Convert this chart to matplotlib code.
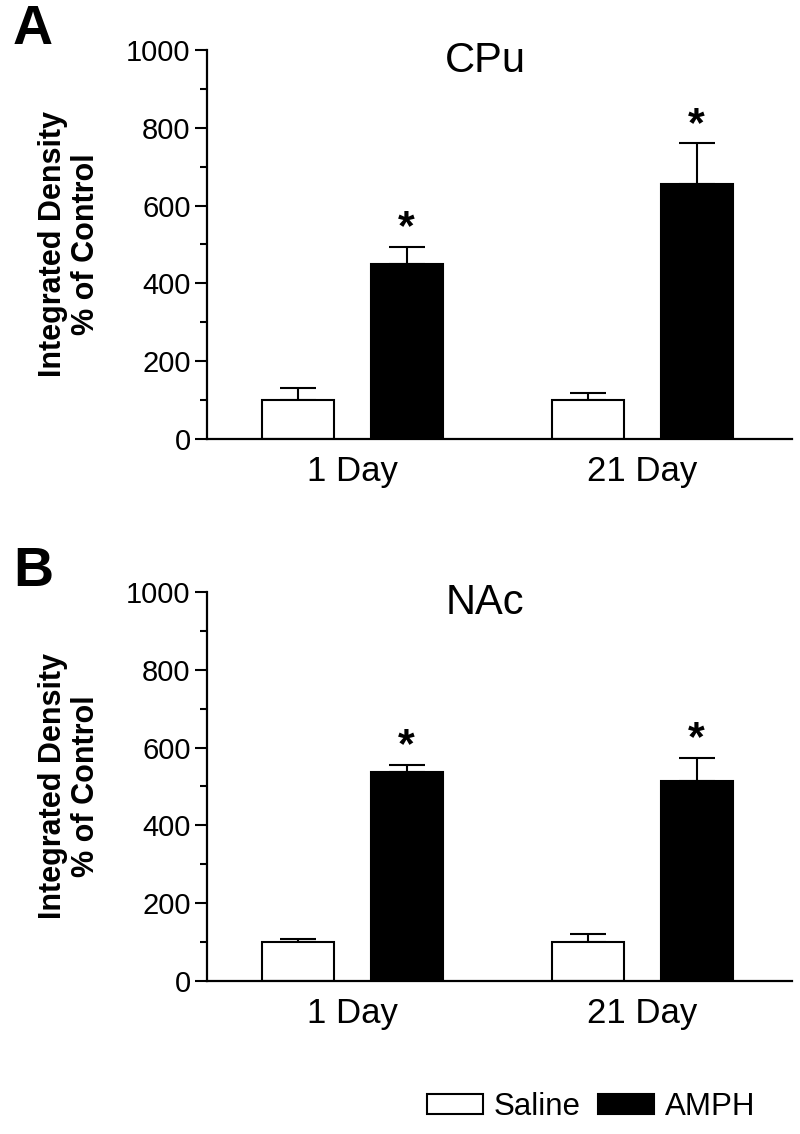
import matplotlib
matplotlib.use("Agg")
import matplotlib.pyplot as plt
from matplotlib.patches import Patch
import numpy as np

plt.rcParams['font.family'] = ['Liberation Sans', 'DejaVu Sans']

groups = ["1 Day", "21 Day"]
series = ["Saline", "AMPH"]
panel_letters = ["A", "B"]
regions = ["CPu", "NAc"]

cpu_saline = [100, 100]
cpu_saline_err = [30, 17]
cpu_amph = [450, 655]
cpu_amph_err = [43, 105]

nac_saline = [100, 100]
nac_saline_err = [7, 21]
nac_amph = [537, 515]
nac_amph_err = [18, 59]

yticks = [0, 200, 400, 600, 800, 1000]

fig = plt.figure(figsize=(8, 11.34), dpi=100)

axes_rects = [[0.259, 0.6131, 0.731, 0.3428], [0.259, 0.1352, 0.731, 0.3425]]
letter_y = [0.9735, 0.4956]
data = [(cpu_saline, cpu_saline_err, cpu_amph, cpu_amph_err),
        (nac_saline, nac_saline_err, nac_amph, nac_amph_err)]

x = np.arange(len(groups))
w = 0.248
off = 0.188
lw = 1.5

for rect, ly, (s, se, a, ae), letter, region in zip(axes_rects, letter_y, data, panel_letters, regions):
    ax = fig.add_axes(rect)
    ax.bar(x - off, s, w, color='white', edgecolor='black', linewidth=lw, zorder=2)
    ax.bar(x + off, a, w, color='black', edgecolor='black', linewidth=lw, zorder=2)
    ax.errorbar(x - off, s, yerr=[np.zeros(len(s)), se], fmt='none', ecolor='black',
                elinewidth=lw, capsize=13, capthick=lw, zorder=1)
    ax.errorbar(x + off, a, yerr=[np.zeros(len(a)), ae], fmt='none', ecolor='black',
                elinewidth=lw, capsize=13, capthick=lw, zorder=1)
    for xi, ai, aei in zip(x + off, a, ae):
        ax.annotate('*', (xi, ai + aei), xytext=(0, -1), textcoords='offset points',
                    ha='center', va='bottom', fontsize=31, fontweight='bold')
    ax.set_xlim(-0.5, 1.517)
    ax.set_ylim(0, 1000)
    ax.set_yticks(yticks)
    ax.set_yticks(np.arange(100, 1000, 200), minor=True)
    ax.tick_params(axis='y', which='major', length=9, width=1.5, labelsize=21, pad=3)
    ax.tick_params(axis='y', which='minor', length=5, width=1.5)
    ax.set_xticks(x)
    ax.set_xticklabels(groups)
    ax.tick_params(axis='x', length=0, labelsize=25, pad=12)
    for sp in ['top', 'right']:
        ax.spines[sp].set_visible(False)
    for sp in ['left', 'bottom']:
        ax.spines[sp].set_linewidth(1.6)
    ax.set_ylabel('Integrated Density\n% of Control', fontsize=22, fontweight='bold',
                  labelpad=18, linespacing=1.15)
    ax.text(0.475, 0.972, region, transform=ax.transAxes, ha='center', va='center', fontsize=30)
    fig.text(0.016, ly, letter, fontsize=40, fontweight='bold', ha='left', va='center')

handles = [Patch(facecolor='white', edgecolor='black', linewidth=1.5, label='Saline'),
           Patch(facecolor='black', edgecolor='black', linewidth=1.5, label='AMPH')]
fig.legend(handles=handles, loc='center', bbox_to_anchor=(0.739, 0.0238), ncol=2,
           frameon=False, fontsize=22.5, handlelength=1.78, handleheight=0.63,
           handletextpad=0.35, columnspacing=0.57, borderpad=0)

fig.savefig('out.png', dpi=100)
